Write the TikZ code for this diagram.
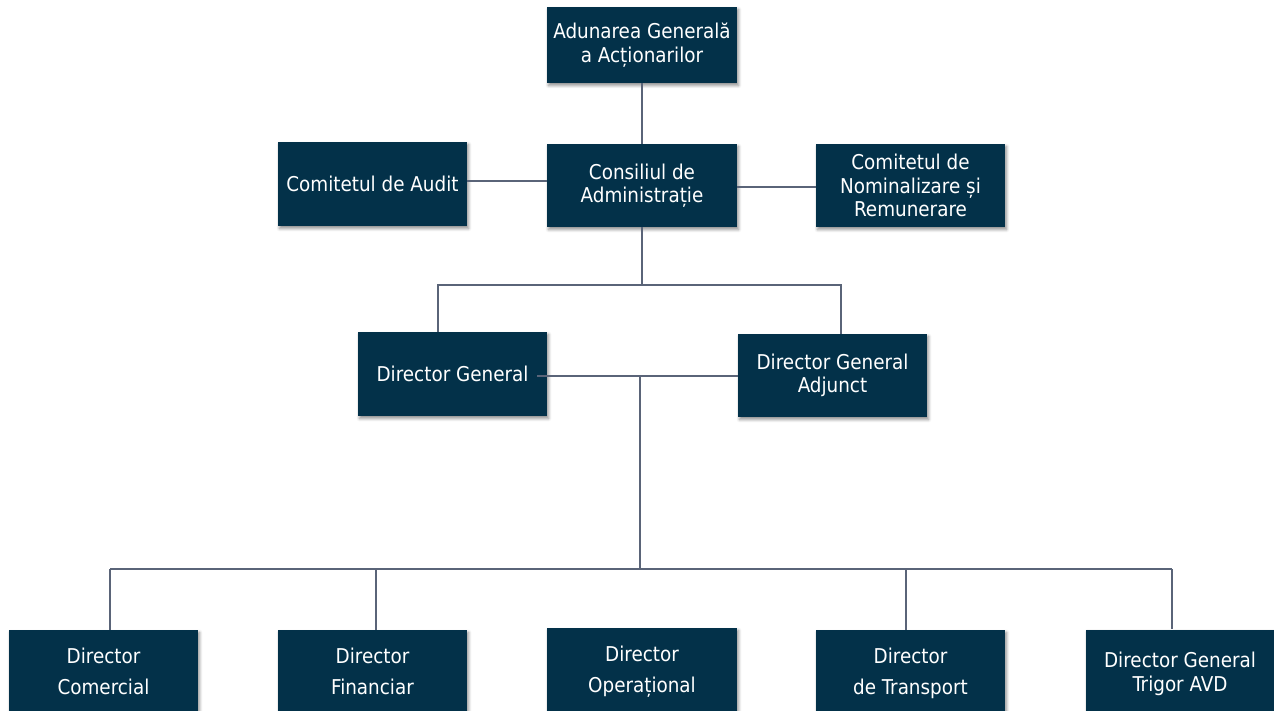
\documentclass[tikz,border=0pt]{standalone}
\usepackage{fontspec}
\setmainfont{DejaVu Sans Condensed}
\usetikzlibrary{shadows.blur}
\definecolor{navy}{HTML}{033149}
\definecolor{linegray}{HTML}{5A6478}
\tikzset{
  box/.style={fill=navy, text=white, align=center, inner sep=0pt,
    minimum width=189pt, minimum height=83pt,
    font=\fontsize{20.4}{23.5}\selectfont,
    blur shadow={shadow xshift=1.5pt, shadow yshift=-2.5pt,
      shadow blur steps=6, shadow blur radius=3pt, shadow opacity=45}},
  widebox/.style={box, font=\fontsize{20.4}{31}\selectfont},
  link/.style={draw=linegray, line width=1.5pt}
}
\begin{document}
\begin{tikzpicture}[x=1pt, y=-1pt]
\useasboundingbox (0,0) rectangle (1274,711);

% governing bodies
\node[box, minimum width=190pt, minimum height=76pt] (aga) at (642,45) {Adunarea Generală\\a Acționarilor};
\node[box, minimum width=190pt] (cda) at (642,185.5) {Consiliul de\\Administrație};
\node[box, minimum height=84pt] (audit) at (372.5,184) {Comitetul de Audit};
\node[box] (nom) at (910.5,185.5) {Comitetul de\\Nominalizare și\\Remunerare};

% executive management
\node[box, minimum height=84pt] (dg) at (452.5,374) {Director General};
\node[box] (dga) at (832.5,375.5) {Director General\\Adjunct};

% directors
\node[widebox] (com) at (103.5,671.5) {Director\\Comercial};
\node[widebox] (fin) at (372.5,671.5) {Director\\Financiar};
\node[widebox, minimum width=190pt, minimum height=87pt] (op) at (642,671.5) {Director\\Operațional};
\node[widebox, minimum height=87pt] (tr) at (910.5,673.5) {Director\\de Transport};
\node[box, minimum width=188pt, minimum height=89pt] (tri) at (1180,674) {Director General\\Trigor AVD};

% junction points
\coordinate (hL) at (438,285);
\coordinate (hR) at (841,285);
\coordinate (dgl) at (537,376);
\coordinate (m1) at (640,376);
\coordinate (m2) at (640,570);
\coordinate (bl) at (110,569);
\coordinate (bf) at (376,569);
\coordinate (bt) at (906,569);
\coordinate (br) at (1172,569);

% connectors
\draw[link] (aga.south) -- (cda.north);
\draw[link] (audit.east |- 0,181) -- (cda.west |- 0,181);
\draw[link] (cda.east |- 0,187) -- (nom.west |- 0,187);
\draw[link] (cda.south) -- (cda.south |- hL);
\draw[link] (dg.north -| hL) -- (hL) -- (hR) -- (dga.north -| hR);
\draw[link] (dgl) -- (dga.west |- dgl);
\draw[link] (m1) -- (m2);
\draw[link] (bl) -- (br);
\draw[link] (bl) -- (com.north -| bl);
\draw[link] (bf) -- (fin.north -| bf);
\draw[link] (bt) -- (tr.north -| bt);
\draw[link] (br) -- (tri.north -| br);
\end{tikzpicture}
\end{document}
